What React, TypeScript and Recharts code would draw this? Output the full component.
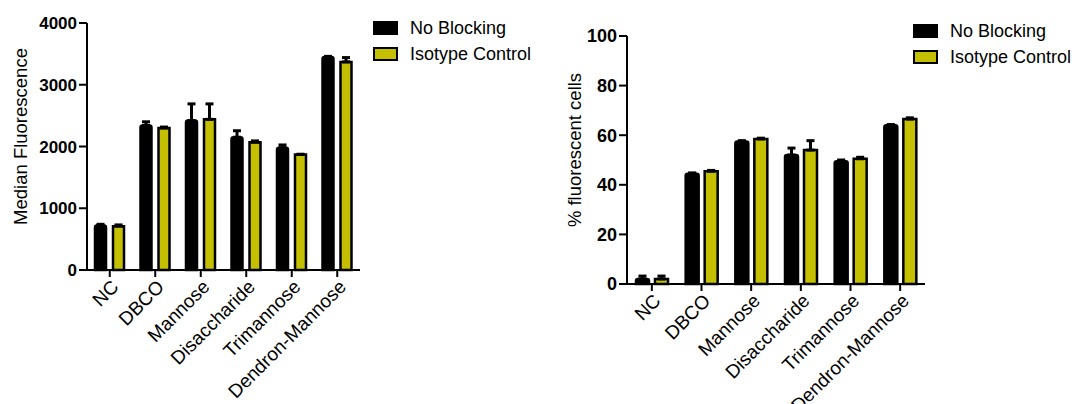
import React from 'react';
import { BarChart, Bar, XAxis, YAxis, ErrorBar } from 'recharts';

const FONT = '"Liberation Sans", Arial, Helvetica, sans-serif';
const OLIVE = '#c4c000';

const categories = ['NC', 'DBCO', 'Mannose', 'Disaccharide', 'Trimannose', 'Dendron-Mannose'];

// left panel: median fluorescence
const mfiNoBlocking = [720, 2340, 2420, 2150, 1980, 3450];
const mfiNoBlockingErr = [20, 60, 270, 105, 45, 10];
const mfiIsotype = [710, 2300, 2440, 2070, 1870, 3370];
const mfiIsotypeErr = [20, 15, 250, 20, 5, 70];
const mfiTicks = [0, 1000, 2000, 3000, 4000];

// right panel: % fluorescent cells
const pctNoBlocking = [2, 44.5, 57.5, 52, 49.5, 64];
const pctNoBlockingErr = [1.2, 0.3, 0.3, 2.8, 0.5, 0.3];
const pctIsotype = [2, 45.5, 58.5, 54, 50.5, 66.5];
const pctIsotypeErr = [1.2, 0.3, 0.3, 3.8, 0.6, 0.5];
const pctTicks = [0, 20, 40, 60, 80, 100];

const buildRows = (a: number[], aErr: number[], b: number[], bErr: number[]) =>
  categories.map((name, i) => ({
    name,
    noBlocking: a[i],
    noBlockingErr: [0, aErr[i]],
    isotype: b[i],
    isotypeErr: [0, bErr[i]],
  }));

const mfiData = buildRows(mfiNoBlocking, mfiNoBlockingErr, mfiIsotype, mfiIsotypeErr);
const pctData = buildRows(pctNoBlocking, pctNoBlockingErr, pctIsotype, pctIsotypeErr);

const CategoryTick = (props: any) => {
  const { x, y, payload } = props;
  const ax = x + 10;
  const ay = y + 9;
  return (
    <text
      x={ax}
      y={ay}
      transform={`rotate(-45 ${ax} ${ay})`}
      textAnchor="end"
      fontSize={19}
      fontFamily={FONT}
      fill="#000"
    >
      {payload.value}
    </text>
  );
};

const axisLabel = (text: string, cx: number) => (props: any) => {
  const vb = props.viewBox || { y: 0, height: 0 };
  const cy = vb.y + vb.height / 2 - 10;
  return (
    <text
      x={cx}
      y={cy}
      transform={`rotate(-90 ${cx} ${cy})`}
      textAnchor="middle"
      dominantBaseline="central"
      fontSize={18.5}
      fontFamily={FONT}
      fill="#000"
    >
      {text}
    </text>
  );
};

const Legend = ({ left, top }: { left: number; top: number }) => {
  const items = [
    { label: 'No Blocking', color: '#000' },
    { label: 'Isotype Control', color: OLIVE },
  ];
  return (
    <div style={{ position: 'absolute', left, top, fontFamily: FONT, fontSize: 18 }}>
      {items.map((it) => (
        <div key={it.label} style={{ display: 'flex', alignItems: 'center', height: 26 }}>
          <div
            style={{
              width: 21,
              height: 10,
              background: it.color,
              border: '2.5px solid #000',
              marginRight: 12,
            }}
          />
          <span>{it.label}</span>
        </div>
      ))}
    </div>
  );
};

interface PanelProps {
  data: any[];
  width: number;
  top: number;
  right: number;
  xHeight: number;
  ticks: number[];
  label: string;
  labelX: number;
  tickFont: number;
  barSize: number;
  barGap: number;
}

const Panel = ({ data, width, top, right, xHeight, ticks, label, labelX, tickFont, barSize, barGap }: PanelProps) => (
  <BarChart
    width={width}
    height={404}
    data={data}
    margin={{ top, right, left: 0, bottom: 0 }}
    barSize={barSize}
    barGap={barGap}
  >
    <XAxis
      dataKey="name"
      height={xHeight}
      interval={0}
      axisLine={{ stroke: '#000', strokeWidth: 2 }}
      tickLine={{ stroke: '#000', strokeWidth: 2 }}
      tickSize={7}
      tick={<CategoryTick />}
    />
    <YAxis
      width={87}
      domain={[ticks[0], ticks[ticks.length - 1]]}
      ticks={ticks}
      interval={0}
      axisLine={{ stroke: '#000', strokeWidth: 2 }}
      tickLine={{ stroke: '#000', strokeWidth: 2 }}
      tickSize={8}
      tickMargin={2}
      tick={{ fill: '#000', fontSize: tickFont, fontWeight: 'bold', fontFamily: FONT }}
      label={{ content: axisLabel(label, labelX) }}
    />
    <Bar dataKey="noBlocking" fill="#000" stroke="#000" strokeWidth={2.5} radius={[2, 2, 0, 0]} isAnimationActive={false}>
      <ErrorBar dataKey="noBlockingErr" direction="y" width={4} stroke="#000" strokeWidth={3} />
    </Bar>
    <Bar dataKey="isotype" fill={OLIVE} stroke="#000" strokeWidth={2.5} isAnimationActive={false}>
      <ErrorBar dataKey="isotypeErr" direction="y" width={4} stroke="#000" strokeWidth={3} />
    </Bar>
  </BarChart>
);

export default function App() {
  return (
    <div
      style={{
        position: 'absolute',
        left: 0,
        top: 0,
        width: 1075,
        height: 404,
        overflow: 'hidden',
        background: '#fff',
      }}
    >
      <div style={{ position: 'absolute', left: 0, top: 0 }}>
        <Panel
          data={mfiData}
          width={370}
          top={23}
          right={10}
          xHeight={134}
          ticks={mfiTicks}
          label="Median Fluorescence"
          labelX={20}
          tickFont={17}
          barSize={11}
          barGap={7}
        />
      </div>
      <Legend left={373} top={15} />
      <div style={{ position: 'absolute', left: 540, top: 0 }}>
        <Panel
          data={pctData}
          width={385}
          top={36}
          right={0}
          xHeight={120}
          ticks={pctTicks}
          label="% fluorescent cells"
          labelX={34}
          tickFont={18}
          barSize={13}
          barGap={6}
        />
      </div>
      <Legend left={913} top={18} />
    </div>
  );
}
